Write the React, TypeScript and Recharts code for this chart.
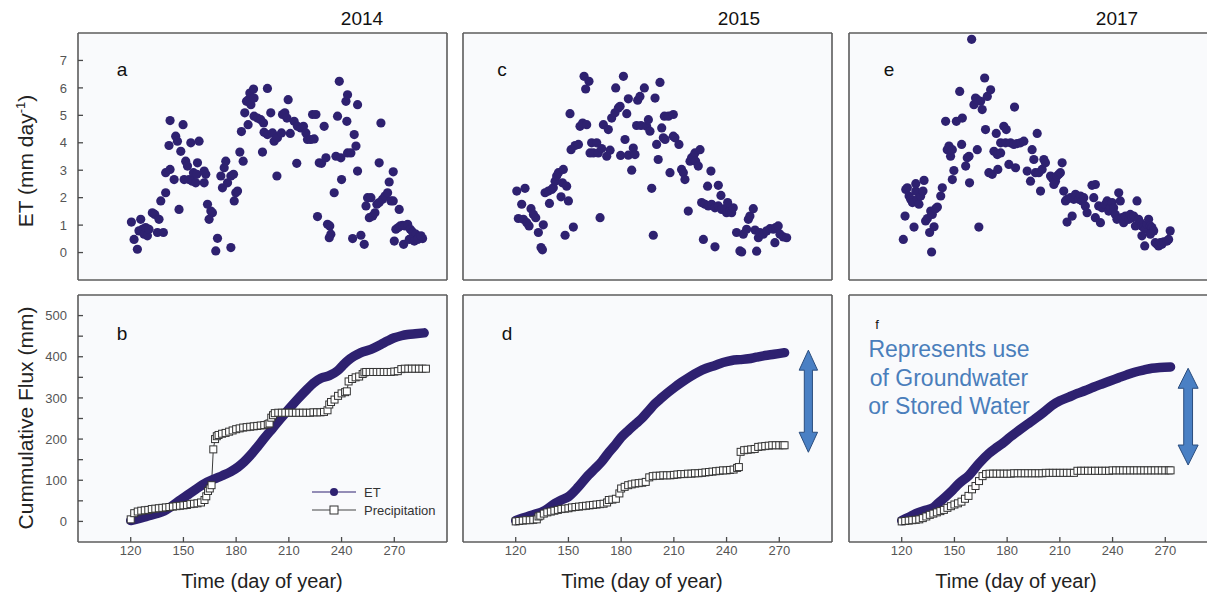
import React from 'react';
import {
  ComposedChart,
  Scatter,
  Line,
  XAxis,
  YAxis,
  CartesianGrid,
  ReferenceArea,
  Legend,
} from 'recharts';

// ---------------- DATA ----------------
const years = ['2014', '2015', '2017'];
const panelLetters = ['a', 'b', 'c', 'd', 'e', 'f'];
const dayTicks = [120, 150, 180, 210, 240, 270];
const etTicks = [0, 1, 2, 3, 4, 5, 6, 7];
const cumTicks = [0, 50, 100, 150, 200, 250, 300, 350, 400, 450, 500];
const noteLines = ['Represents use', 'of Groundwater', 'or Stored Water'];

// daily ET (mm/day): [day of year, ET]
const et2014: [number, number][] = [
  [120.4,1.11],[125.7,1.21],[121.9,0.48],[123.8,0.12],[124.7,0.79],[126.6,0.85],[127.6,0.67],[128.5,0.91],[129.5,0.61],[130.4,0.85],
  [132.3,1.45],[133.7,1.39],[136.1,1.21],[135.2,0.73],[138.6,0.73],[137.1,1.88],[139.9,2.18],[139.9,2.91],[142.4,3.03],[142.4,4.81],
  [141.8,3.9],[145.6,4.24],[146.6,4.06],[147.5,1.57],[144.7,2.66],[148.5,3.69],[149.8,4.66],[151.3,3.33],[152.3,3.15],[150.4,2.66],
  [153.2,2.66],[155.1,2.6],[157.0,2.54],[154.2,4.0],[158.9,4.06],[158.0,3.27],[155.7,2.91],[157.6,2.85],[161.8,2.97],[162.7,2.85],
  [161.8,2.54],[163.7,1.76],[165.6,1.51],[166.5,1.45],[164.6,1.21],[169.4,0.52],[168.4,0.06],[177.0,0.18],[171.3,2.79],[173.2,3.09],
  [174.1,3.33],[172.2,2.36],[175.1,2.54],[177.0,2.79],[178.5,2.85],[179.8,2.18],[180.8,2.24],[178.9,1.88],[182.1,3.66],[184.0,3.33],
  [183.0,4.41],[184.9,5.09],[185.9,5.51],[187.0,5.57],[187.8,5.81],[189.9,5.96],[188.4,5.39],[190.2,5.63],[186.8,4.66],[190.2,4.97],
  [192.1,4.9],[194.0,4.84],[195.6,4.72],[195.0,3.66],[197.8,5.98],[199.7,5.09],[195.9,4.38],[197.8,4.3],[200.7,4.36],[201.6,4.06],
  [203.5,4.18],[205.8,4.36],[203.2,2.79],[206.4,5.03],[207.7,5.09],[208.9,4.9],[209.6,5.57],[210.8,4.34],[213.0,4.78],[214.9,4.6],
  [216.8,4.54],[218.3,4.6],[219.7,4.36],[220.6,4.12],[222.5,4.12],[224.4,4.14],[214.5,3.25],[223.5,5.03],[225.4,5.03],[226.3,1.31],
  [227.3,3.27],[228.6,3.25],[231.1,3.45],[230.1,4.6],[232.0,1.03],[233.3,0.97],[233.9,0.67],[233.0,0.54],[236.8,3.51],[239.6,3.45],
  [243.4,3.63],[237.7,4.97],[238.7,6.24],[242.5,5.51],[243.4,5.75],[243.0,4.78],[235.8,2.18],[240.0,2.66],[245.3,3.63],[247.2,4.3],
  [248.2,3.88],[249.1,5.39],[249.1,2.97],[246.3,0.51],[251.0,0.63],[252.9,0.3],[253.9,1.7],[254.8,2.0],[256.7,2.0],[255.8,1.27],
  [257.7,1.33],[259.0,1.45],[260.1,1.76],[261.4,1.82],[263.3,1.94],[264.7,2.06],[266.2,2.18],[268.1,1.88],[269.4,1.88],[261.4,3.27],
  [262.4,4.72],[267.1,2.57],[269.4,2.94],[272.8,1.57],[270.9,0.85],[272.3,0.91],[273.4,0.97],[274.7,0.99],[276.1,0.97],[277.6,1.03],
  [279.1,0.85],[280.4,0.75],[282.3,0.67],[284.2,0.58],[286.1,0.51],[270.0,0.42],[275.3,0.3],[278.5,0.48],[281.4,0.42],[283.3,0.48],
  [285.2,0.61],
];

const et2015: [number, number][] = [
  [120.6,2.24],[125.3,2.34],[123.4,1.76],[121.5,1.24],[124.4,1.21],[126.3,1.09],[127.6,0.97],[128.7,1.6],[130.1,1.39],[131.4,1.27],
  [132.9,0.73],[134.4,0.18],[135.2,0.1],[135.7,1.01],[136.7,2.18],[138.6,2.24],[140.5,2.3],[141.4,2.36],[139.2,1.79],[142.4,2.6],
  [143.3,2.79],[144.3,2.91],[145.8,2.03],[150.0,1.88],[147.1,3.03],[146.6,2.54],[149.0,2.42],[148.1,0.63],[152.8,0.93],[150.9,5.06],
  [151.5,3.75],[153.8,3.9],[155.7,3.94],[156.6,4.6],[158.1,4.72],[160.4,4.66],[158.9,6.42],[161.7,6.24],[159.8,5.96],[162.3,3.63],
  [164.2,3.63],[163.2,4.0],[166.1,4.0],[167.0,3.63],[168.9,3.79],[168.0,1.27],[169.9,4.66],[172.7,4.48],[171.8,3.51],[173.7,3.73],
  [174.6,4.9],[176.5,5.09],[178.4,5.27],[179.4,5.33],[176.9,6.0],[179.7,3.54],[181.3,6.42],[182.2,4.12],[183.2,5.06],[184.1,5.6],
  [184.1,3.55],[186.9,3.81],[187.9,3.57],[186.0,3.0],[189.4,5.55],[190.7,5.69],[188.8,4.63],[191.3,4.63],[194.5,4.6],[193.2,6.0],
  [195.5,4.84],[196.4,4.42],[197.4,2.34],[198.3,0.63],[199.3,5.63],[202.1,6.2],[200.2,3.94],[201.1,3.39],[203.1,4.54],[204.0,4.18],
  [205.0,4.12],[204.6,4.97],[206.9,4.97],[209.7,5.03],[207.8,2.91],[209.7,4.24],[210.6,4.18],[212.9,3.94],[214.4,3.03],[215.4,2.91],
  [216.3,2.66],[218.2,1.51],[219.2,3.33],[220.1,3.45],[221.1,3.51],[222.0,3.63],[222.4,3.33],[223.9,3.15],[224.9,3.75],[226.8,0.48],
  [225.8,1.82],[227.7,1.76],[229.6,1.7],[231.5,1.76],[233.4,1.63],[235.3,1.7],[237.2,1.57],[239.1,1.6],[240.0,1.45],[241.9,1.51],
  [242.9,1.45],[243.8,1.63],[240.6,1.82],[231.1,2.97],[229.2,2.42],[235.3,2.45],[236.8,2.08],[233.4,0.21],[245.7,0.73],[247.6,0.06],
  [248.6,0.02],[249.5,0.67],[251.4,0.85],[252.4,1.21],[253.3,1.33],[255.2,1.6],[256.2,0.82],[257.1,0.05],[258.1,0.54],[259.0,0.73],
  [260.9,0.67],[262.8,0.79],[264.7,0.87],[266.6,0.85],[267.9,0.91],[269.4,0.97],[267.5,0.36],[270.4,0.67],[272.3,0.57],[274.2,0.54],
];

const et2017: [number, number][] = [
  [120.9,0.48],[121.9,1.33],[122.3,2.3],[123.2,2.36],[124.2,2.06],[125.1,1.94],[126.1,1.82],[128.0,2.24],[128.9,1.94],[129.8,1.76],
  [130.8,2.06],[132.1,2.24],[132.7,2.63],[127.0,0.93],[128.0,2.51],[133.6,1.15],[134.6,1.24],[136.5,1.51],[137.4,1.39],[139.3,1.6],
  [140.3,1.66],[135.9,0.73],[138.4,0.94],[137.0,0.02],[142.2,2.06],[143.1,2.36],[145.0,4.78],[145.9,3.75],[146.9,3.88],[147.8,3.51],
  [148.8,3.75],[149.7,2.99],[148.8,2.66],[151.1,4.78],[153.0,5.87],[154.5,4.9],[154.1,3.94],[156.4,3.15],[157.3,3.45],[158.3,3.51],
  [158.6,2.54],[159.8,7.77],[161.1,5.39],[162.0,5.63],[163.0,5.57],[164.9,5.51],[165.8,5.21],[163.0,3.75],[163.9,0.93],[167.2,6.36],
  [168.7,5.69],[170.6,5.93],[167.7,4.48],[169.6,2.91],[171.5,2.85],[174.7,3.03],[172.5,3.69],[174.4,3.57],[176.3,3.63],[173.8,4.34],
  [178.1,4.6],[179.5,4.48],[176.3,4.0],[179.1,4.0],[181.9,4.0],[183.8,3.94],[185.7,3.97],[187.6,4.0],[189.5,4.06],[181.0,3.21],
  [184.8,3.09],[184.2,5.3],[191.4,2.97],[193.3,2.6],[194.2,3.75],[195.2,3.39],[196.1,2.91],[198.0,2.91],[199.9,3.03],[199.0,2.24],
  [197.1,4.34],[200.9,3.39],[201.8,3.27],[204.7,2.79],[205.6,2.72],[206.6,2.66],[207.5,2.6],[208.4,2.79],[209.4,2.85],[210.3,2.91],
  [211.3,3.27],[206.6,2.48],[212.2,2.24],[213.2,1.88],[214.1,1.94],[216.0,2.0],[217.9,1.94],[218.9,2.12],[220.8,1.94],[221.7,2.06],
  [222.7,1.88],[224.5,1.7],[225.5,1.45],[223.6,2.0],[228.3,2.45],[230.2,2.48],[229.3,2.0],[214.1,1.11],[217.0,1.33],[230.2,1.27],
  [233.1,1.09],[232.1,1.7],[234.0,1.63],[235.9,1.76],[236.9,1.88],[237.8,1.51],[238.8,1.63],[239.7,1.82],[240.6,1.63],[241.6,1.39],
  [243.5,2.18],[244.4,1.88],[242.5,1.21],[245.4,1.27],[246.3,1.09],[247.3,1.33],[249.2,1.21],[250.1,1.39],[251.1,1.27],[252.0,1.33],
  [253.0,0.97],[253.9,1.88],[254.8,1.21],[255.8,1.09],[256.7,0.97],[257.7,0.91],[258.6,0.85],[259.6,1.03],[260.5,1.21],[261.5,0.97],
  [262.4,0.91],[263.4,0.79],[256.7,0.61],[258.3,0.24],[261.5,0.67],[264.3,0.36],[265.3,0.3],[266.2,0.24],[267.2,0.36],[268.1,0.3],
  [269.1,0.39],[271.0,0.42],[271.9,0.48],[272.8,0.79],
];

// cumulative ET (mm): [day, mm]
const cumEt2014: [number, number][] = [
  [120,2],[125,7],[129.5,13],[134,18],[139,25],[143,36],[148.5,53],[153,66],[158,81],[162,92],[167.5,103],[172,111],[177,121],
  [181,132],[184.6,145],[188,160],[192.1,181],[196,202],[200.7,226],[205,248],[210.2,274],[215,297],[220.6,322],[224,336],
  [228.2,348],[233,354],[237.7,366],[240.5,378],[243.4,390],[247,401],[251,410],[256.7,418],[262.4,430],[266,438],[270,446],
  [274,451],[277.6,454],[282,456],[287,458],
];
const cumEt2015: [number, number][] = [
  [120,2],[124,8],[129.1,15],[136.7,27],[142.4,44],[146,52],[150,60],[155.7,84],[161.3,112],[165,128],[168.9,145],[172.5,165],
  [176.5,185],[180,204],[184.1,221],[188,236],[191.7,250],[195.5,268],[199.3,286],[203,300],[206.9,314],[210.5,326],[214.4,338],
  [219,351],[223.9,363],[228.5,372],[233.4,379],[238,386],[242.9,391],[247.5,393],[252.4,395],[257,399],[261.9,403],[267,406],[273,410],
];
const cumEt2017: [number, number][] = [
  [120,2],[124,10],[128,19],[132.5,26],[137.4,32],[141,45],[145,60],[149,76],[152.6,92],[158.3,112],[164,141],[169.6,165],
  [173.5,178],[177.2,189],[182,206],[186.7,221],[191.5,236],[196.1,250],[201,266],[205.6,282],[210,293],[215.1,302],[220,311],
  [224.5,318],[229,326],[234,334],[238.5,341],[243.5,349],[248,356],[253,363],[258,368],[262.4,372],[267,374],[273,375],
];

// cumulative precipitation (mm): [day, mm]
const cumP2014: [number, number][] = [
  [120,5],[122,20],[124,24],[126,26],[128,27],[130,28],[132,30],[134,31],[136,32],[138,33],[140,34],[142,35],[144,36],[146,37],
  [148,38],[150,39],[152,40],[154,42],[156,43],[158,44],[160,46],[162,52],[163,61],[164,74],[165,80],[166,88],[167,175],[168,200],
  [169,207],[170,210],[172,213],[174,215],[176,218],[178,221],[180,224],[182,226],[184,228],[186,229],[188,230],[190,231],[192,232],
  [194,233],[196,234],[198,236],[199,238],[200,252],[201,258],[202,263],[204,264],[206,264],[208,264],[210,264],[212,264],[214,264],
  [216,264],[218,264],[220,264],[222,264],[224,265],[226,265],[228,265],[230,266],[232,270],[233,284],[234,290],[236,296],[238,305],
  [240,311],[242,314],[243,316],[244,340],[246,346],[248,350],[250,352],[252,358],[253,362],[254,363],[256,363],[258,363],[260,363],
  [262,363],[264,363],[266,363],[268,363],[270,364],[272,365],[274,370],[276,371],[278,371],[280,371],[282,371],[284,371],[286,371],[288,371],
];
const cumP2015: [number, number][] = [
  [120,0],[122,1],[124,2],[126,3],[128,3],[130,4],[132,5],[133,12],[134,14],[136,19],[138,22],[140,24],[142,26],[144,28],[146,30],
  [148,31],[150,32],[152,34],[154,35],[156,36],[158,37],[160,38],[162,39],[164,40],[166,41],[168,42],[170,43],[172,46],[173,52],
  [175,53],[177,55],[179,68],[180,80],[182,84],[184,88],[186,90],[188,92],[190,93],[192,94],[194,96],[196,107],[198,110],[200,111],
  [202,111],[204,112],[206,112],[208,112],[210,113],[212,114],[214,115],[216,115],[218,116],[220,116],[222,117],[224,117],[226,118],
  [228,119],[230,120],[232,121],[234,122],[236,123],[238,124],[240,124],[242,125],[244,126],[246,130],[247,132],[248,169],[250,173],
  [252,174],[254,175],[256,176],[258,181],[260,182],[262,183],[264,184],[266,185],[268,185],[270,185],[272,185],[273,185],
];
const cumP2017: [number, number][] = [
  [120,0],[122,1],[124,2],[126,3],[128,4],[130,5],[132,8],[134,12],[136,16],[138,19],[140,22],[142,25],[144,28],[146,33],[148,37],
  [150,41],[152,44],[154,48],[156,55],[158,62],[160,78],[162,86],[164,98],[166,110],[168,115],[170,116],[172,116],[174,116],[176,116],
  [178,116],[180,116],[182,116],[184,117],[186,117],[188,117],[190,117],[192,117],[194,117],[196,117],[198,117],[200,117],[202,118],
  [204,118],[206,118],[208,118],[210,118],[212,118],[214,118],[216,118],[218,118],[220,123],[222,123],[224,123],[226,123],[228,123],
  [230,123],[232,123],[234,123],[236,123],[238,123],[240,124],[242,124],[244,124],[246,124],[248,124],[250,124],[252,124],[254,124],
  [256,124],[258,124],[260,124],[262,124],[264,124],[266,124],[268,124],[270,124],[272,124],[273,124],
];

// gap arrows (day range, mm range)
const gapArrow2015 = { x: [281.3, 291.8], y: [168, 416] };
const gapArrow2017 = { x: [277.3, 288.7], y: [137, 372] };

// ---------------- STYLE / LAYOUT ----------------
const FONT = '"Liberation Sans", Arial, Helvetica, sans-serif';
const ET_COLOR = '#2e2170';
const AXIS = '#5c5c5c';
const BOX_W = 369;
const BOX_H = 247;
const L = 70;
const T = 8;
const R = 8;
const B = 34;
const COL_X = [78, 463, 849];
const ROW_Y = [33, 295];

const toXY = (arr: [number, number][]) => arr.map(([x, y]) => ({ x, y }));

const tickText = { fontSize: 13, fill: '#555', fontFamily: FONT };

function frame(kind: 'et' | 'cum', showY: boolean, showX: boolean) {
  const yDomain = kind === 'et' ? [-1, 8] : [-50, 550];
  const yTicks = kind === 'et' ? etTicks : cumTicks;
  const yFmt = (v: number) => (kind === 'et' ? String(v) : v % 100 === 0 ? String(v) : '');
  const common = {
    type: 'number' as const,
    axisLine: { stroke: AXIS, strokeWidth: 1.6 },
    tickLine: { stroke: '#4a4a4a', strokeWidth: 1.3 },
    tickSize: -5,
    interval: 0 as const,
    allowDataOverflow: true,
  };
  return [
    <CartesianGrid key="bg" horizontal={false} vertical={false} fill="#f9fafc" />,
    <XAxis key="xb" dataKey="x" orientation="bottom" domain={[90, 300]} ticks={dayTicks} height={B}
      tickMargin={9} tick={showX ? tickText : false} {...common} />,
    <XAxis key="xt" xAxisId="t" dataKey="x" orientation="top" domain={[90, 300]} ticks={dayTicks} height={T}
      tick={false} {...common} />,
    <YAxis key="yl" dataKey="y" orientation="left" domain={yDomain} ticks={yTicks} width={L}
      tickMargin={16} tick={showY ? tickText : false} tickFormatter={yFmt} {...common} />,
    <YAxis key="yr" yAxisId="r" dataKey="y" orientation="right" domain={yDomain} ticks={yTicks} width={R}
      tick={false} {...common} />,
  ];
}

const EtDot = (p: any) => <circle cx={p.cx} cy={p.cy} r={4.6} fill={ET_COLOR} />;

const SquareDot = (p: any) => {
  if (p.cx == null || p.cy == null) return <g key={p.index} />;
  return (
    <rect key={p.index} x={p.cx - 3.5} y={p.cy - 3.5} width={7} height={7}
      fill="#ffffff" stroke="#333" strokeWidth={1} />
  );
};

const DoubleArrow = (p: any) => {
  const { x, y, width, height } = p;
  const cx = x + width / 2;
  const sw = width * 0.22;
  const hl = 20;
  const pts = [
    [cx, y], [x + width, y + hl], [cx + sw, y + hl], [cx + sw, y + height - hl], [x + width, y + height - hl],
    [cx, y + height], [x, y + height - hl], [cx - sw, y + height - hl], [cx - sw, y + hl], [x, y + hl],
  ];
  return <polygon points={pts.map((q) => q.join(',')).join(' ')} fill="#4a80c4" stroke="#2b4d7e" strokeWidth={1} />;
};

const legendContent = () => (
  <svg width={150} height={40} style={{ display: 'block' }}>
    <line x1={4} x2={48} y1={10} y2={10} stroke={ET_COLOR} strokeWidth={1.2} />
    <circle cx={26} cy={10} r={4} fill={ET_COLOR} />
    <text x={56} y={14.5} fontSize={13} fill="#333" fontFamily={FONT}>ET</text>
    <line x1={4} x2={48} y1={28} y2={28} stroke="#444" strokeWidth={1.2} />
    <rect x={22} y={24} width={8} height={8} fill="#fff" stroke="#333" strokeWidth={1} />
    <text x={56} y={32.5} fontSize={13} fill="#333" fontFamily={FONT}>Precipitation</text>
  </svg>
);

function Panel({ col, row, children }: { col: number; row: number; children: React.ReactNode }) {
  return (
    <div style={{ position: 'absolute', left: COL_X[col] - L, top: ROW_Y[row] - T }}>
      <ComposedChart width={L + BOX_W + R} height={T + BOX_H + B} margin={{ top: 0, right: 0, bottom: 0, left: 0 }}>
        {children}
      </ComposedChart>
    </div>
  );
}

const etSets = [et2014, et2015, et2017];
const cumEtSets = [cumEt2014, cumEt2015, cumEt2017];
const cumPSets = [cumP2014, cumP2015, cumP2017];
const arrows = [null, gapArrow2015, gapArrow2017];

export default function App() {
  return (
    <div style={{ position: 'absolute', left: 0, top: 0, width: 1207, height: 596, overflow: 'hidden', background: '#fff', fontFamily: FONT }}>
      {[0, 1, 2].map((c) => (
        <Panel key={'et' + c} col={c} row={0}>
          {frame('et', c === 0, false)}
          <Scatter data={toXY(etSets[c])} dataKey="y" fill={ET_COLOR} shape={EtDot} isAnimationActive={false} />
        </Panel>
      ))}
      {[0, 1, 2].map((c) => {
        const a = arrows[c];
        return (
          <Panel key={'cum' + c} col={c} row={1}>
            {frame('cum', c === 0, true)}
            <Line data={toXY(cumPSets[c])} dataKey="y" type="linear" stroke="#3a3a3a" strokeWidth={1}
              dot={SquareDot} activeDot={false} isAnimationActive={false} />
            <Line data={toXY(cumEtSets[c])} dataKey="y" type="monotone" stroke={ET_COLOR} strokeWidth={9.5}
              strokeLinecap="round" strokeLinejoin="round" dot={false} activeDot={false} isAnimationActive={false} />
            {a && (
              <ReferenceArea x1={a.x[0]} x2={a.x[1]} y1={a.y[0]} y2={a.y[1]} ifOverflow="visible" shape={DoubleArrow} />
            )}
            {c === 0 && (
              <Legend content={legendContent} layout="vertical" align="center" verticalAlign="middle"
                wrapperStyle={{ left: 300, top: 195, width: 150, height: 40 }} />
            )}
          </Panel>
        );
      })}
      <svg width={1207} height={596} style={{ position: 'absolute', left: 0, top: 0, pointerEvents: 'none' }} fontFamily={FONT}>
        <text x={362} y={25} fontSize={19} textAnchor="middle" fill="#111">{years[0]}</text>
        <text x={739} y={25} fontSize={19} textAnchor="middle" fill="#111">{years[1]}</text>
        <text x={1117} y={25} fontSize={19} textAnchor="middle" fill="#111">{years[2]}</text>

        <text transform="translate(33,161) rotate(-90)" fontSize={21} textAnchor="middle" fill="#222">
          ET (mm day<tspan dy={-8} fontSize={13}>-1</tspan><tspan dy={8}>)</tspan>
        </text>
        <text transform="translate(33,418) rotate(-90)" fontSize={21} textAnchor="middle" fill="#222">
          Cummulative Flux (mm)
        </text>

        <text x={262} y={588} fontSize={20} textAnchor="middle" fill="#222">Time (day of year)</text>
        <text x={642} y={588} fontSize={20} textAnchor="middle" fill="#222">Time (day of year)</text>
        <text x={1016} y={588} fontSize={20} textAnchor="middle" fill="#222">Time (day of year)</text>

        <text x={122} y={76} fontSize={19} textAnchor="middle" fill="#111">{panelLetters[0]}</text>
        <text x={122} y={340} fontSize={19} textAnchor="middle" fill="#111">{panelLetters[1]}</text>
        <text x={502} y={76} fontSize={19} textAnchor="middle" fill="#111">{panelLetters[2]}</text>
        <text x={507} y={340} fontSize={19} textAnchor="middle" fill="#111">{panelLetters[3]}</text>
        <text x={889} y={76} fontSize={19} textAnchor="middle" fill="#111">{panelLetters[4]}</text>
        <text x={877} y={329} fontSize={13} textAnchor="middle" fill="#111">{panelLetters[5]}</text>

        {noteLines.map((t, i) => (
          <text key={t} x={949} y={357 + i * 28.5} fontSize={23} textAnchor="middle" fill="#4a7ebb">{t}</text>
        ))}
      </svg>
    </div>
  );
}
